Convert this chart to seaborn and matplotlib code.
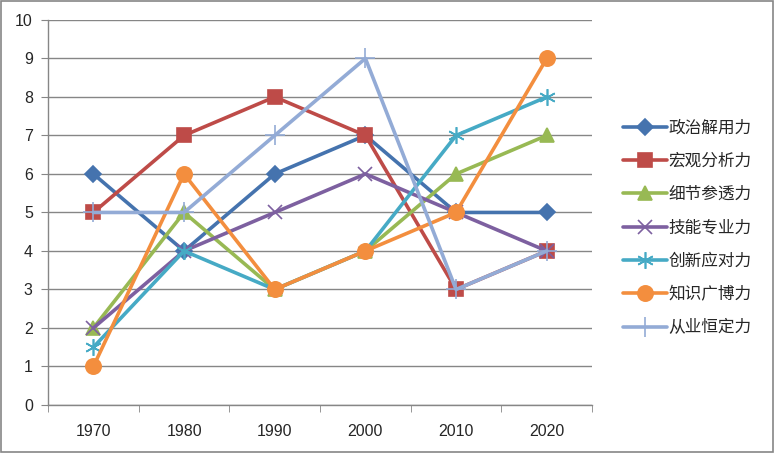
import seaborn as sns
import matplotlib.pyplot as plt
import pandas as pd

# decades on the x axis and one list of scores per ability
years = ['1970', '1980', '1990', '2000', '2010', '2020']
series_names = ['政治解用力', '宏观分析力', '细节参透力', '技能专业力', '创新应对力', '知识广博力', '从业恒定力']
zhengzhi = [6, 4, 6, 7, 5, 5]
hongguan = [5, 7, 8, 7, 3, 4]
xijie = [2, 5, 3, 4, 6, 7]
jineng = [2, 4, 5, 6, 5, 4]
chuangxin = [1.5, 4, 3, 4, 7, 8]
zhishi = [1, 6, 3, 4, 5, 9]
congye = [5, 5, 7, 9, 3, 4]
all_values = [zhengzhi, hongguan, xijie, jineng, chuangxin, zhishi, congye]

rows = []
for name, vals in zip(series_names, all_values):
    for i, v in enumerate(vals):
        rows.append({'idx': i, 'year': years[i], 'series': name, 'value': v})
df = pd.DataFrame(rows)

colors = ['#4573AE', '#BE4B48', '#98B954', '#7D60A0', '#46AAC5', '#F38E3E', '#93ABD6']
markers = ['D', 's', '^', 'x', (6, 2, 0), 'o', '+']
sizes = [8, 10, 10, 10, 12, 11, 14]

sns.set_style('white')
plt.rcParams['font.family'] = ['Liberation Sans', 'DejaVu Sans']

fig = plt.figure(figsize=(7.75, 4.53), dpi=100)
ax = fig.add_axes([0.062, 0.106, 0.702, 0.85])

for name, c, m, s in zip(series_names, colors, markers, sizes):
    sub = df[df['series'] == name]
    sns.lineplot(data=sub, x='idx', y='value', ax=ax, color=c, lw=2.6,
                 marker=m, markersize=s, markeredgecolor=c, markeredgewidth=1.2,
                 label=name)

ax.set_xlim(-0.5, 5.5)
ax.set_ylim(0, 10)
ax.set_yticks(range(0, 11))
ax.set_xticks(range(6))
ax.set_xticklabels(years)
ax.set_xticks([i - 0.5 for i in range(7)], minor=True)
ax.tick_params(axis='x', which='major', length=0, pad=14, labelsize=11.5)
ax.tick_params(axis='x', which='minor', length=5, color='#868686', bottom=True)
ax.tick_params(axis='y', length=5, color='#868686', left=True, labelsize=11.5, pad=6)
ax.grid(axis='y', color='#868686', lw=1)
ax.set_axisbelow(True)
ax.set_xlabel('')
ax.set_ylabel('')
for side in ['top', 'right']:
    ax.spines[side].set_visible(False)
for side in ['left', 'bottom']:
    ax.spines[side].set_color('#868686')
    ax.spines[side].set_linewidth(1)

ax.legend(loc='center left', bbox_to_anchor=(1.03, 0.46), frameon=False,
          prop={'family': ['Noto Sans CJK SC', 'DejaVu Sans'], 'size': 12},
          handlelength=2.6, labelspacing=0.98, handletextpad=0.1)

fig.patches.append(plt.Rectangle((0.001, 0.002), 0.997, 0.996, transform=fig.transFigure,
                                 fill=False, edgecolor='#868686', lw=1.2))

plt.savefig('out.png', dpi=100)
plt.close()
